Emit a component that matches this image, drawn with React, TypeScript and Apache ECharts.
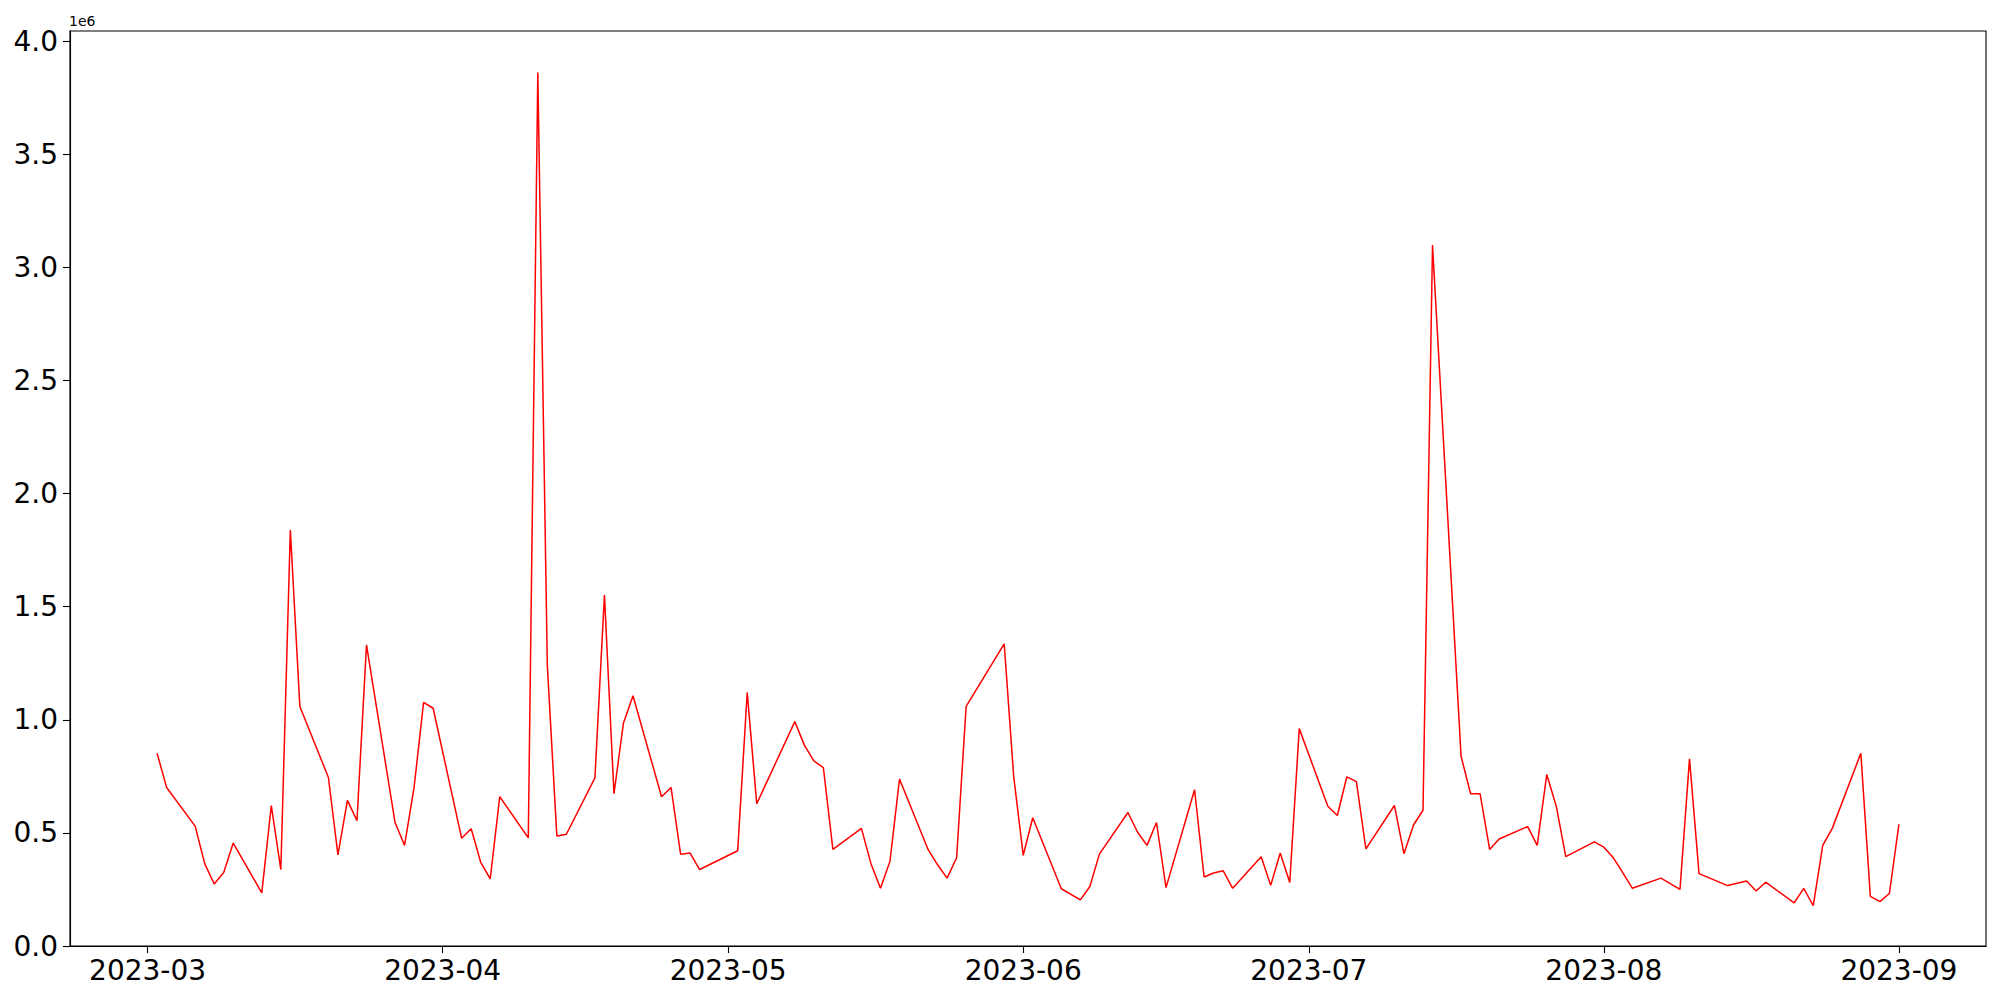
import React, { useEffect, useRef } from "react";
import * as echarts from "echarts";

const dates: string[] = [
  "2023-03-02", "2023-03-03", "2023-03-06", "2023-03-07", "2023-03-08", "2023-03-09", "2023-03-10",
  "2023-03-13", "2023-03-14", "2023-03-15", "2023-03-16", "2023-03-17",
  "2023-03-20", "2023-03-21", "2023-03-22", "2023-03-23", "2023-03-24",
  "2023-03-27", "2023-03-28", "2023-03-29", "2023-03-30", "2023-03-31",
  "2023-04-03", "2023-04-04", "2023-04-05", "2023-04-06", "2023-04-07",
  "2023-04-10", "2023-04-11", "2023-04-12", "2023-04-13", "2023-04-14",
  "2023-04-17", "2023-04-18", "2023-04-19", "2023-04-20", "2023-04-21",
  "2023-04-24", "2023-04-25", "2023-04-26", "2023-04-27", "2023-04-28",
  "2023-05-02", "2023-05-03", "2023-05-04",
  "2023-05-08", "2023-05-09", "2023-05-10", "2023-05-11", "2023-05-12",
  "2023-05-15", "2023-05-16", "2023-05-17", "2023-05-18", "2023-05-19",
  "2023-05-22", "2023-05-23", "2023-05-24", "2023-05-25", "2023-05-26",
  "2023-05-30", "2023-05-31", "2023-06-01", "2023-06-02",
  "2023-06-05", "2023-06-07", "2023-06-08", "2023-06-09",
  "2023-06-12", "2023-06-13", "2023-06-14", "2023-06-15", "2023-06-16",
  "2023-06-19", "2023-06-20", "2023-06-21", "2023-06-22", "2023-06-23",
  "2023-06-26", "2023-06-27", "2023-06-28", "2023-06-29", "2023-06-30",
  "2023-07-03", "2023-07-04", "2023-07-05", "2023-07-06", "2023-07-07",
  "2023-07-10", "2023-07-11", "2023-07-12", "2023-07-13", "2023-07-14",
  "2023-07-17", "2023-07-18", "2023-07-19", "2023-07-20", "2023-07-21",
  "2023-07-24", "2023-07-25", "2023-07-26", "2023-07-27", "2023-07-28",
  "2023-07-31", "2023-08-01", "2023-08-02", "2023-08-03", "2023-08-04",
  "2023-08-07", "2023-08-09", "2023-08-10", "2023-08-11",
  "2023-08-14", "2023-08-16", "2023-08-17", "2023-08-18",
  "2023-08-21", "2023-08-22", "2023-08-23", "2023-08-24", "2023-08-25",
  "2023-08-28", "2023-08-29", "2023-08-30", "2023-08-31", "2023-09-01",
];

const values: number[] = [
  852000, 701000, 530000, 364000, 274000, 325000, 455000,
  235000, 621000, 338000, 1839000, 1059000,
  745000, 403000, 644000, 554000, 1331000,
  546000, 445000, 701000, 1077000, 1051000,
  476000, 518000, 370000, 297000, 660000,
  478000, 3861000, 1240000, 486000, 494000,
  743000, 1552000, 673000, 986000, 1106000,
  660000, 701000, 406000, 411000, 338000,
  421000, 1121000, 629000,
  992000, 888000, 818000, 789000, 427000,
  520000, 364000, 255000, 375000, 738000,
  427000, 359000, 300000, 390000, 1059000,
  1336000, 748000, 401000, 567000,
  253000, 204000, 263000, 406000,
  590000, 504000, 445000, 546000, 258000,
  691000, 305000, 323000, 333000, 255000,
  395000, 268000, 411000, 281000, 961000,
  618000, 577000, 748000, 727000, 429000,
  621000, 408000, 535000, 600000, 3099000,
  839000, 673000, 673000, 427000, 473000,
  528000, 445000, 758000, 618000, 395000,
  460000, 437000, 390000, 323000, 255000,
  300000, 250000, 828000, 320000,
  267000, 287000, 243000, 282000,
  191000, 255000, 178000, 445000, 520000,
  852000, 219000, 196000, 232000, 538000,
];

const xTickLabels: string[] = ["2023-03", "2023-04", "2023-05", "2023-06", "2023-07", "2023-08", "2023-09"];
const yTickValues: number[] = [0, 500000, 1000000, 1500000, 2000000, 2500000, 3000000, 3500000, 4000000];

const toTs = (s: string): number => {
  const p = s.split("-").map(Number);
  return Date.UTC(p[0], p[1] - 1, p[2] || 1);
};

const fmtMonth = (v: number): string => {
  const d = new Date(Math.round(v));
  const m = d.getUTCMonth() + 1;
  return d.getUTCFullYear() + "-" + (m < 10 ? "0" + m : "" + m);
};

export default function App() {
  const ref = useRef<HTMLDivElement>(null);
  useEffect(() => {
    if (!ref.current) return;
    const chart = echarts.init(ref.current, undefined, { renderer: "svg" });
    const xs = dates.map(toTs);
    const span = xs[xs.length - 1] - xs[0];
    const xMin = xs[0] - span * 0.05;
    const xMax = xs[xs.length - 1] + span * 0.05;
    const xTicks = xTickLabels.map(toTs);
    const font = "DejaVu Sans";
    chart.setOption({
      animation: false,
      backgroundColor: "#ffffff",
      grid: {
        left: 70,
        right: 14,
        top: 31,
        bottom: 54,
        show: true,
        borderColor: "#000000",
        borderWidth: 1.1,
        backgroundColor: "transparent",
      },
      xAxis: {
        type: "value",
        min: xMin,
        max: xMax,
        scale: true,
        axisLine: { show: true, onZero: false, lineStyle: { color: "#000000", width: 1.1 } },
        axisTick: { show: true, customValues: xTicks, length: 7, lineStyle: { color: "#000000", width: 1.1 } },
        axisLabel: {
          customValues: xTicks,
          formatter: (v: number) => fmtMonth(v),
          fontSize: 28,
          color: "#000000",
          fontFamily: font,
          margin: 10,
        },
        splitLine: { show: false },
      },
      yAxis: {
        type: "value",
        min: 0,
        max: 4045000,
        axisLine: { show: true, lineStyle: { color: "#000000", width: 1.1 } },
        axisTick: { show: true, customValues: yTickValues, length: 7, lineStyle: { color: "#000000", width: 1.1 } },
        axisLabel: {
          customValues: yTickValues,
          formatter: (v: number) => (v / 1e6).toFixed(1),
          fontSize: 28,
          color: "#000000",
          fontFamily: font,
          margin: 12,
        },
        splitLine: { show: false },
      },
      series: [
        {
          type: "line",
          data: xs.map((t, i) => [t, values[i]]),
          symbol: "none",
          showSymbol: false,
          lineStyle: { color: "#ff0000", width: 1.5 },
          itemStyle: { color: "#ff0000" },
        },
      ],
      graphic: [
        {
          type: "text",
          left: 69,
          top: 14,
          style: { text: "1e6", fontSize: 14, fill: "#000000", fontFamily: font },
        },
      ],
    });
    return () => chart.dispose();
  }, []);
  return (
    <div
      ref={ref}
      style={{ position: "fixed", left: 0, top: 0, width: 2000, height: 1000, background: "#ffffff" }}
    />
  );
}
